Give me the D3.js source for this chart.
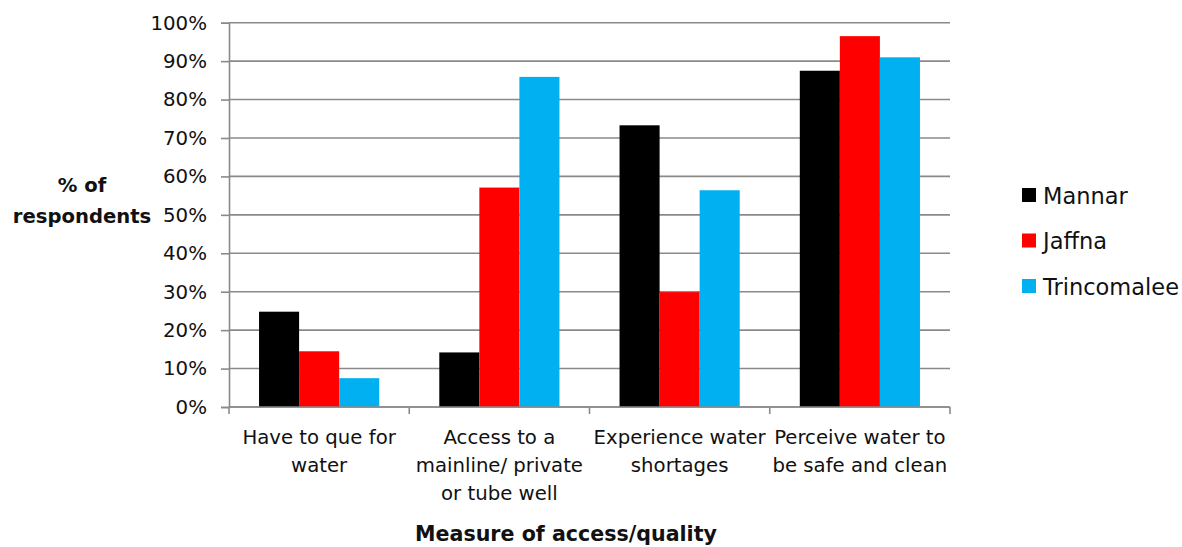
<!DOCTYPE html>
<html>
<head>
<meta charset="utf-8">
<script src="https://cdn.jsdelivr.net/npm/d3@7"></script>
<style>
  html, body { margin: 0; padding: 0; background: #fff; }
  svg { display: block; }
  text { font-family: "DejaVu Sans", sans-serif; fill: #111; }
</style>
</head>
<body>
<svg id="chart" width="1182" height="547"></svg>
<script>
const categories = [
  ["Have to que for", "water"],
  ["Access to a", "mainline/ private", "or tube well"],
  ["Experience water", "shortages"],
  ["Perceive water to", "be safe and clean"]
];
const categoryKeys = ["q", "a", "e", "p"];
const seriesNames = ["Mannar", "Jaffna", "Trincomalee"];
const seriesColors = ["#000000", "#ff0000", "#00b0f0"];
const mannar = [0.248, 0.142, 0.733, 0.875];
const jaffna = [0.145, 0.571, 0.299, 0.965];
const trincomalee = [0.075, 0.859, 0.564, 0.910];
const yTicks = [0, 0.1, 0.2, 0.3, 0.4, 0.5, 0.6, 0.7, 0.8, 0.9, 1.0];
const seriesValues = [mannar, jaffna, trincomalee];

(function () {
const svg = d3.select("#chart");
const pLeft = 229, pRight = 950, pTop = 22.7, pBottom = 407;
const FONT = "'DejaVu Sans', sans-serif";

const x0 = d3.scaleBand().domain(categoryKeys).range([pLeft, pRight]).paddingInner(0).paddingOuter(0);
const x1 = d3.scaleBand().domain(seriesNames).range([0, x0.bandwidth()]).paddingInner(0).paddingOuter(0.75);
const y = d3.scaleLinear().domain([0, 1]).range([pBottom, pTop]);

// gridlines
svg.append("g").selectAll("line").data(yTicks).join("line")
  .attr("x1", pLeft).attr("x2", pRight)
  .attr("y1", d => y(d)).attr("y2", d => y(d))
  .attr("stroke", "#8a8a8a").attr("stroke-width", 1.6);

// bars
const groups = svg.append("g").selectAll("g").data(categoryKeys).join("g")
  .attr("transform", d => `translate(${x0(d)},0)`);
groups.selectAll("rect")
  .data((d, i) => seriesNames.map((s, j) => ({ s, j, v: seriesValues[j][i] })))
  .join("rect")
  .attr("x", d => x1(d.s))
  .attr("width", x1.bandwidth())
  .attr("y", d => y(d.v))
  .attr("height", d => pBottom - y(d.v))
  .attr("fill", d => seriesColors[d.j]);

// y axis
const yAxis = d3.axisLeft(y).tickValues(yTicks).tickFormat(d3.format(".0%")).tickSize(8).tickPadding(14);
const yg = svg.append("g").attr("transform", `translate(${pLeft},0)`).call(yAxis);
yg.select(".domain").attr("stroke", "#8a8a8a").attr("stroke-width", 1.6);
yg.selectAll(".tick line").attr("stroke", "#8a8a8a").attr("stroke-width", 1.6);
yg.selectAll(".tick text").style("font-size", "19.8px").attr("fill", "#111")
  .style("font-family", FONT);

// x axis
const xg = svg.append("g").attr("transform", `translate(0,${pBottom})`);
xg.append("line").attr("x1", pLeft).attr("x2", pRight).attr("y1", 0).attr("y2", 0)
  .attr("stroke", "#8a8a8a").attr("stroke-width", 1.6);
const boundaries = categoryKeys.map(k => x0(k)).concat([pRight]);
xg.selectAll("line.tk").data(boundaries).join("line").attr("class", "tk")
  .attr("x1", d => d).attr("x2", d => d).attr("y1", 0).attr("y2", 7)
  .attr("stroke", "#8a8a8a").attr("stroke-width", 1.6);

categoryKeys.forEach((k, i) => {
  const cx = x0(k) + x0.bandwidth() / 2;
  const t = svg.append("text")
    .attr("x", cx)
    .attr("y", 444)
    .attr("text-anchor", "middle")
    .style("font-size", "19.7px");
  categories[i].forEach((line, li) => {
    t.append("tspan").attr("x", cx).attr("dy", li === 0 ? 0 : 28).text(line);
  });
});

// axis titles
svg.append("text").attr("x", 566).attr("y", 541).attr("text-anchor", "middle")
  .style("font-size", "20.6px").style("font-weight", "bold").text("Measure of access/quality");
const yt = svg.append("text").attr("text-anchor", "middle").style("font-size", "19.6px").style("font-weight", "bold");
yt.append("tspan").attr("x", 82).attr("y", 192).text("% of");
yt.append("tspan").attr("x", 82).attr("y", 223).text("respondents");

// legend
const legend = svg.append("g").selectAll("g").data(seriesNames).join("g")
  .attr("transform", (d, i) => `translate(1022,${195 + i * 45.5})`);
legend.append("rect").attr("x", 0).attr("y", -7).attr("width", 14).attr("height", 14)
  .attr("fill", (d, i) => seriesColors[i]);
legend.append("text").attr("x", 21).attr("y", 8.5).style("font-size", "22.5px").text(d => d);
})();
</script>
</body>
</html>
